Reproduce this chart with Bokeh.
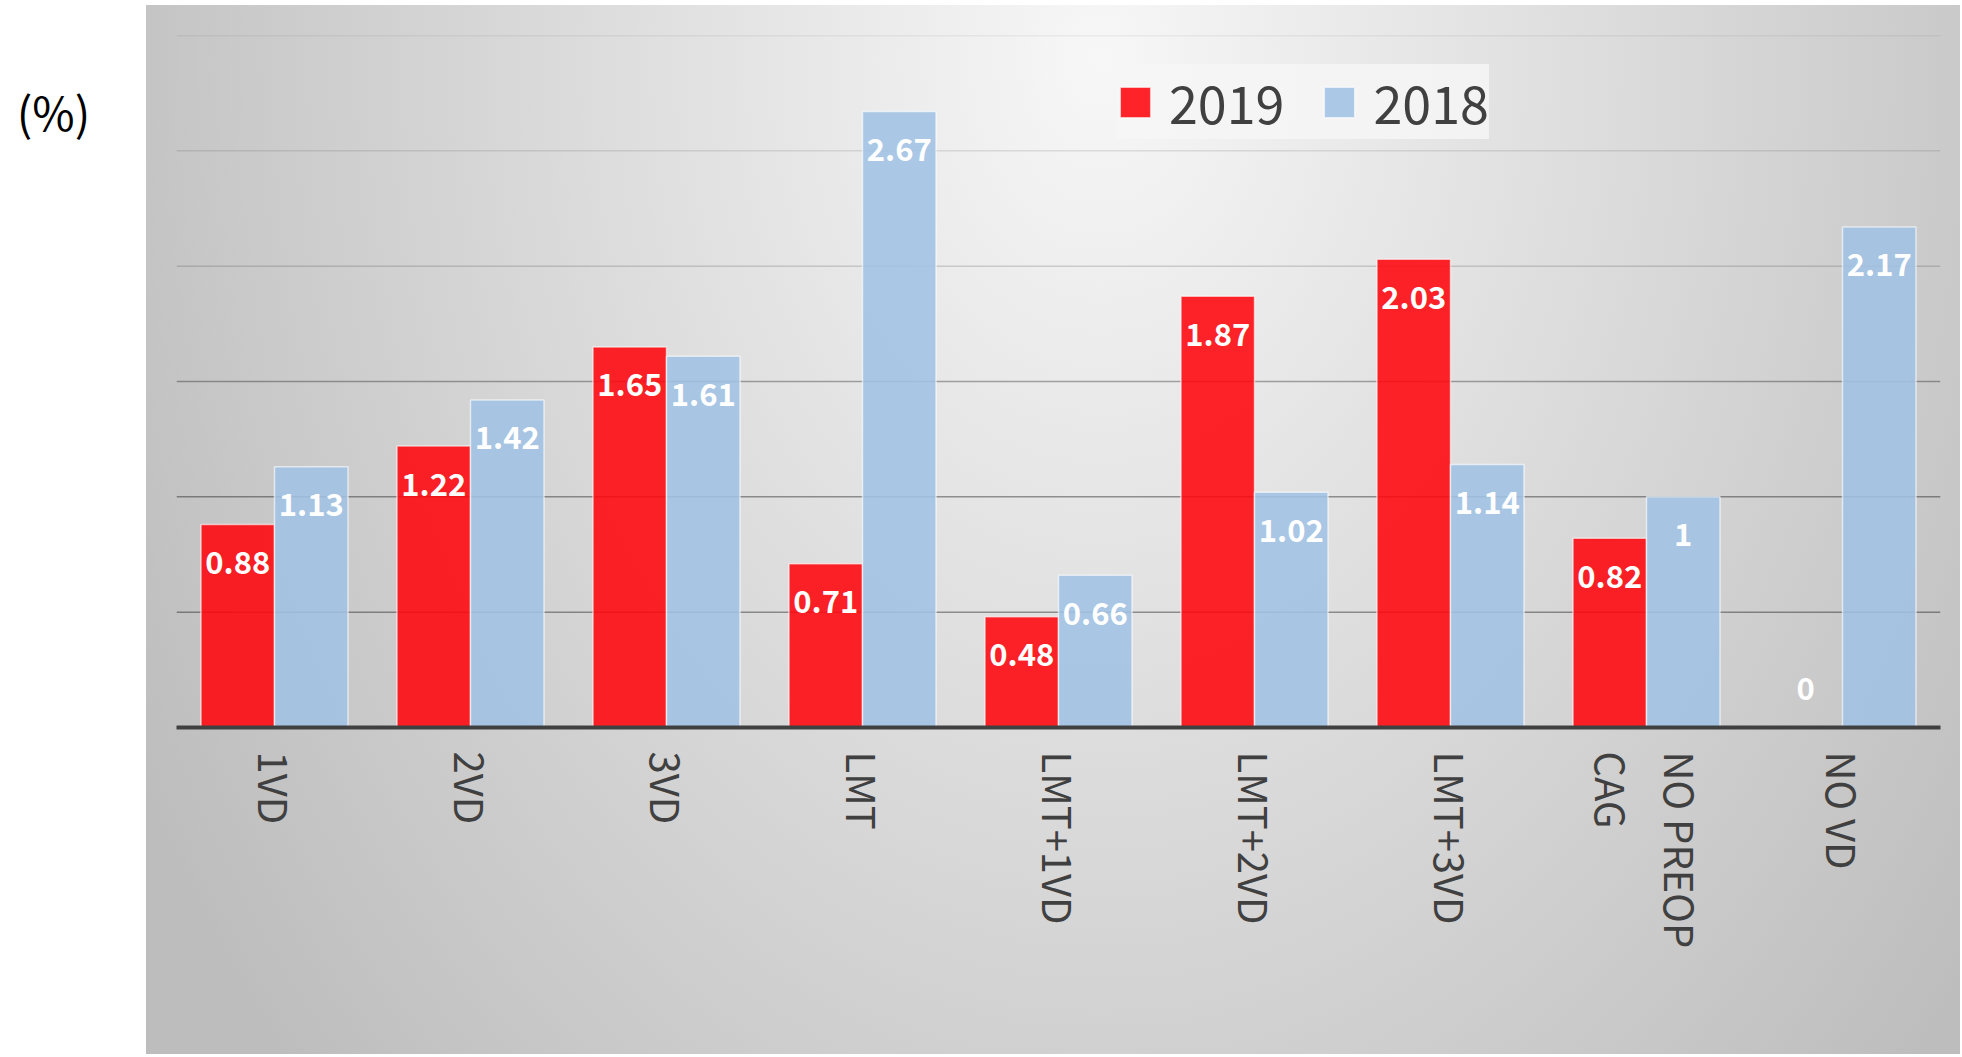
from math import pi
from bokeh.plotting import figure
from bokeh.layouts import row
from bokeh.models import (ColumnDataSource, Range1d, FactorRange, Legend, LegendItem,
                          Span, Label)
from bokeh.transform import dodge
from bokeh.embed import file_html
from bokeh.resources import INLINE
from bokeh.core.properties import value

# ---------------- data ----------------
categories = ["1VD", "2VD", "3VD", "LMT", "LMT+1VD", "LMT+2VD", "LMT+3VD",
              "NO PREOP\nCAG", "NO VD"]
values_2019 = [0.88, 1.22, 1.65, 0.71, 0.48, 1.87, 2.03, 0.82, 0]
values_2018 = [1.13, 1.42, 1.61, 2.67, 0.66, 1.02, 1.14, 1, 2.17]
series_names = ["2019", "2018"]
grid_values = [0.5, 1.0, 1.5, 2.0, 2.5, 3.0]
y_min, y_max = 0, 3.0
unit_text = "(%)"

# ---------------- style ----------------
FONT = "Noto Sans CJK JP"
RED = "#FE060B"
BLUE = "#A1C3E5"
TEXT_GRAY = "#404040"
grid_alphas = [0.38, 0.38, 0.32, 0.15, 0.1, 0.1]
BAR_W = 0.375
TOTAL_H = 1054
LEFT_W = 146


def fmt(v):
    return f"{v:g}"


def label_offset(v):
    return 38 if v > 0 else -39


src = ColumnDataSource(dict(
    cat=categories,
    v19=values_2019,
    v18=values_2018,
    t19=[fmt(v) for v in values_2019],
    t18=[fmt(v) for v in values_2018],
    o19=[label_offset(v) for v in values_2019],
    o18=[label_offset(v) for v in values_2018],
))

# ---- left strip with the unit label ----
left = figure(width=LEFT_W, height=TOTAL_H, x_range=Range1d(0, LEFT_W),
              y_range=Range1d(0, TOTAL_H), x_axis_type=None, y_axis_type=None,
              min_border=0, output_backend="svg", toolbar_location=None)
left.outline_line_color = None
left.background_fill_color = "white"
left.border_fill_color = "white"
left.add_layout(Label(x=53, y=TOTAL_H - 115, text=unit_text, text_font=FONT,
                      text_font_size="46px", text_color="black",
                      text_align="center", text_baseline="middle"))

# ---- main chart ----
p = figure(x_range=FactorRange(*categories), y_range=Range1d(y_min, y_max),
           width=1814, height=TOTAL_H, frame_width=1764, frame_height=692,
           min_border_left=30, min_border_right=20, min_border_top=35,
           min_border_bottom=TOTAL_H - 35 - 692, output_backend="svg",
           toolbar_location=None)

p.background_fill_color = None
p.border_fill_color = None
p.outline_line_color = None
p.styles = {
    "background": (
        "linear-gradient(#ffffff, #ffffff) 0 0 / 100% 5px no-repeat, "
        "radial-gradient(ellipse 1100px 1500px at 954px 55px, #f7f7f7, #bdbdbd) "
        "0 5px / 100% calc(100% - 5px) no-repeat"
    )
}

# gridlines (under the bars)
for gv, ga in zip(grid_values, grid_alphas):
    p.add_layout(Span(location=gv, dimension="width", line_color="black",
                      line_alpha=ga, line_width=1.5, level="underlay"))

r19 = p.vbar(x=dodge("cat", -BAR_W / 2, range=p.x_range), top="v19", width=BAR_W,
             source=src, fill_color=RED, fill_alpha=0.88,
             line_color="white", line_alpha=0.6, line_width=1.5)
r18 = p.vbar(x=dodge("cat", BAR_W / 2, range=p.x_range), top="v18", width=BAR_W,
             source=src, fill_color=BLUE, fill_alpha=0.88,
             line_color="white", line_alpha=0.6, line_width=1.5)

for off, col, ycol, ocol in [(-BAR_W / 2, "t19", "v19", "o19"),
                             (BAR_W / 2, "t18", "v18", "o18")]:
    tr = p.text(x=dodge("cat", off, range=p.x_range), y=ycol, text=col, source=src,
                y_offset=ocol, text_color="white", text_font=value(FONT),
                text_font_style="bold", text_font_size="31px",
                text_align="center", text_baseline="middle")
    tr.level = "overlay"

p.ygrid.visible = False
p.xgrid.visible = False
p.yaxis.visible = False

ax = p.xaxis[0]
ax.axis_line_color = TEXT_GRAY
ax.axis_line_width = 4
ax.major_tick_line_color = None
ax.minor_tick_line_color = None
ax.major_tick_out = 0
ax.major_tick_in = 0
ax.major_label_orientation = -pi / 2
ax.major_label_standoff = 24
ax.major_label_text_font = FONT
ax.major_label_text_font_size = "40px"
ax.major_label_text_color = TEXT_GRAY
ax.major_label_text_align = "center"

legend = Legend(items=[LegendItem(label=series_names[0], renderers=[r19]),
                       LegendItem(label=series_names[1], renderers=[r18])],
                orientation="horizontal", location=(940, 588),
                label_text_font=FONT, label_text_font_size="52px",
                label_text_color=TEXT_GRAY, glyph_width=38, glyph_height=38,
                label_standoff=15, spacing=36, padding=40, margin=0,
                label_width=112,
                background_fill_color="#f6f6f6", background_fill_alpha=0.85,
                border_line_color=None)
p.add_layout(legend)

layout = row(left, p, spacing=0)
open("out.html", "w").write(file_html(layout, INLINE))
